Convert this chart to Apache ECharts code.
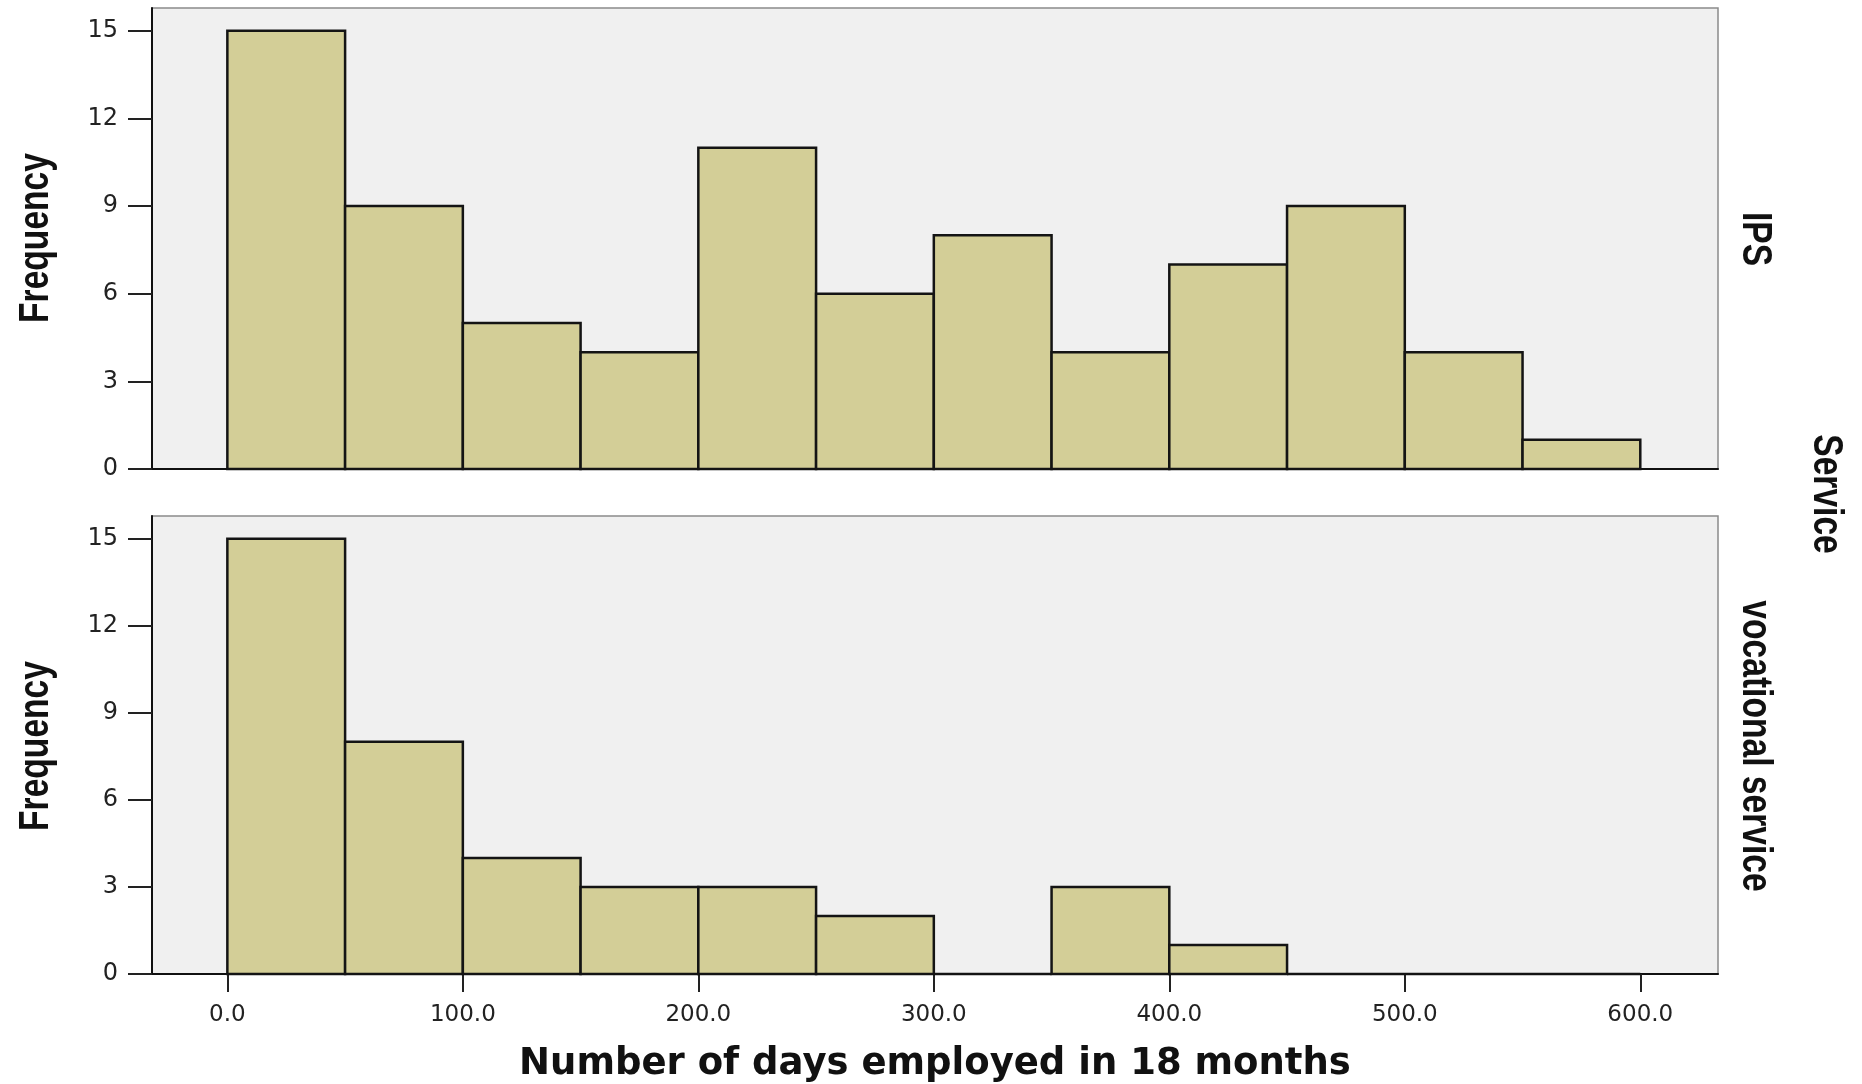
<!DOCTYPE html>
<html>
<head>
<meta charset="utf-8">
<script src="https://cdn.jsdelivr.net/npm/echarts@6/dist/echarts.min.js"></script>
<style>html,body{margin:0;padding:0;background:#fff;}#c{width:1862px;height:1084px;}</style>
</head>
<body>
<div id="c"></div>
<script>
// ---- data ----
const binStarts = [0, 50, 100, 150, 200, 250, 300, 350, 400, 450, 500, 550];
const binWidth = 50;
const ipsCounts = [15, 9, 5, 4, 11, 6, 8, 4, 7, 9, 4, 1];
const vocCounts = [15, 8, 4, 3, 3, 2, 0, 3, 1, 0, 0, 0];
const panelNames = ['IPS', 'vocational service'];
const xTicks = [0, 100, 200, 300, 400, 500, 600];
const yTicks = [0, 3, 6, 9, 12, 15];
const xTitle = 'Number of days employed in 18 months';
const yTitle = 'Frequency';
const facetTitle = 'Service';

const condFont = "'Liberation Sans', Arial, sans-serif";
const wide = "'DejaVu Sans', Verdana, sans-serif";

function toData(counts) {
  return binStarts.map((s, i) => [s, s + binWidth, counts[i]]);
}

function renderBar(params, api) {
  const lo = api.value(0), hi = api.value(1), v = api.value(2);
  const p1 = api.coord([lo, v]);
  const p2 = api.coord([hi, 0]);
  return {
    type: 'rect',
    shape: { x: p1[0], y: p1[1], width: p2[0] - p1[0], height: p2[1] - p1[1] },
    style: { fill: '#d3ce97', stroke: '#141414', lineWidth: 2.5 }
  };
}

const grids = [
  { left: 152, right: 144, top: 8, height: 461, show: true, backgroundColor: '#f0f0f0', borderColor: '#8a8a8a', borderWidth: 1.5 },
  { left: 152, right: 144, top: 516, height: 462, show: true, backgroundColor: '#f0f0f0', borderColor: '#8a8a8a', borderWidth: 1.5 }
];

function xAxis(idx, showLabels) {
  return {
    type: 'value', gridIndex: idx, min: -32, max: 633,
    splitLine: { show: false },
    axisLine: { show: true, onZero: false, lineStyle: { color: '#111', width: 2 } },
    axisTick: { show: showLabels, customValues: xTicks, length: 18, lineStyle: { color: '#222', width: 2 } },
    axisLabel: { show: showLabels, customValues: xTicks, formatter: v => v.toFixed(1), fontFamily: wide, fontSize: 23, color: '#222', margin: 30 },
    name: showLabels ? xTitle : '', nameLocation: 'middle', nameGap: 72,
    nameTextStyle: { fontFamily: wide, fontWeight: 'bold', fontSize: 37, color: '#111' }
  };
}

function yAxis(idx) {
  return {
    type: 'value', gridIndex: idx, min: 0, max: 15.78, interval: 3,
    splitLine: { show: false },
    axisLine: { show: true, onZero: false, lineStyle: { color: '#111', width: 2 } },
    axisTick: { show: true, customValues: yTicks, length: 24, lineStyle: { color: '#222', width: 2 } },
    axisLabel: { customValues: yTicks, fontFamily: wide, fontSize: 24, color: '#222', margin: 34 }
  };
}

function rotLabel(text, x, y, rot) {
  return {
    type: 'text', x: x, y: y, rotation: rot, scaleX: 0.8, scaleY: 1,
    style: { text: text, font: 'bold 42px ' + condFont, fill: '#111', align: 'center', verticalAlign: 'middle' }
  };
}

const option = {
  animation: false,
  backgroundColor: '#ffffff',
  grid: grids,
  xAxis: [xAxis(0, false), xAxis(1, true)],
  yAxis: [yAxis(0), yAxis(1)],
  series: [
    { type: 'custom', name: panelNames[0], xAxisIndex: 0, yAxisIndex: 0, renderItem: renderBar, encode: { x: [0, 1], y: 2 }, data: toData(ipsCounts) },
    { type: 'custom', name: panelNames[1], xAxisIndex: 1, yAxisIndex: 1, renderItem: renderBar, encode: { x: [0, 1], y: 2 }, data: toData(vocCounts) }
  ],
  graphic: [
    rotLabel(yTitle, 36, 238, Math.PI / 2),
    rotLabel(yTitle, 36, 746, Math.PI / 2),
    rotLabel(panelNames[0], 1755, 239, -Math.PI / 2),
    rotLabel(panelNames[1], 1755, 746, -Math.PI / 2),
    rotLabel(facetTitle, 1826, 494, -Math.PI / 2)
  ]
};

const chart = echarts.init(document.getElementById('c'));
chart.setOption(option);
</script>
</body>
</html>
